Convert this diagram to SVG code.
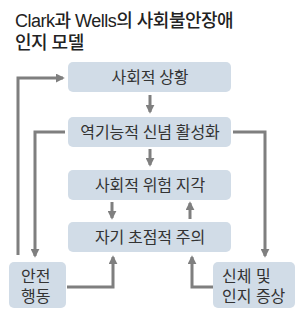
<svg xmlns="http://www.w3.org/2000/svg" width="300" height="318" viewBox="0 0 300 318">
<style>
.box{fill:#d1dce7;}
.t{font-family:"Noto Sans CJK KR","Noto Sans",sans-serif;font-size:16px;fill:#333;}
.m{font-family:"Liberation Sans","Noto Sans CJK KR",sans-serif;}
.c{text-anchor:middle;}
.title{font-family:"Liberation Sans","Noto Sans CJK KR",sans-serif;font-size:18px;font-weight:500;fill:#222;letter-spacing:-0.5px;}
.ln{fill:none;stroke:#7f7f7f;stroke-width:3;}
</style>
<defs>
<marker id="ah" viewBox="0 0 10 10" refX="8" refY="5" markerWidth="3" markerHeight="3" markerUnits="strokeWidth" orient="auto">
<path d="M0,0 L10,5 L0,10 z" fill="#7f7f7f"/>
</marker>
</defs>
<rect width="300" height="318" fill="#fff"/>
<g id="title">
<text class="title"><tspan x="15" y="27">Clark과 Wells의 사회불안장애</tspan><tspan x="15" y="49">인지 모델</tspan></text>
</g>
<g id="n1"><rect class="box" x="68" y="62" width="163" height="30" rx="5"/><text class="t c" x="150" y="83">사회적 상황</text></g>
<g id="n2"><rect class="box" x="68" y="117" width="163" height="30" rx="5"/><text class="t c" x="150" y="138">역기능적 신념 활성화</text></g>
<g id="n3"><rect class="box" x="68" y="170" width="163" height="30" rx="5"/><text class="t c" x="150" y="191">사회적 위험 지각</text></g>
<g id="n4"><rect class="box" x="68" y="222" width="163" height="30" rx="5"/><text class="t c" x="150" y="243">자기 초점적 주의</text></g>
<g id="n5"><rect class="box" x="9" y="262" width="57" height="46" rx="5"/><text class="t m"><tspan x="21" y="282">안전</tspan><tspan x="21" y="302">행동</tspan></text></g>
<g id="n6"><rect class="box" x="213" y="262" width="82" height="46" rx="5"/><text class="t m"><tspan x="222" y="282">신체 및</tspan><tspan x="222" y="302">인지 증상</tspan></text></g>
<g id="connectors">
<path class="ln" d="M150,95 V112" marker-end="url(#ah)"/>
<path class="ln" d="M150,149 V165" marker-end="url(#ah)"/>
<path class="ln" d="M112,202 V218" marker-end="url(#ah)"/>
<path class="ln" d="M190,219 V203" marker-end="url(#ah)"/>
<path class="ln" d="M18,255 V78 H63" marker-end="url(#ah)"/>
<path class="ln" d="M65,132 H35 V256" marker-end="url(#ah)"/>
<path class="ln" d="M233,132 H265 V256" marker-end="url(#ah)"/>
<path class="ln" d="M67,287 H113 V257" marker-end="url(#ah)"/>
<path class="ln" d="M213,287 H192 V257" marker-end="url(#ah)"/>
</g>
</svg>
